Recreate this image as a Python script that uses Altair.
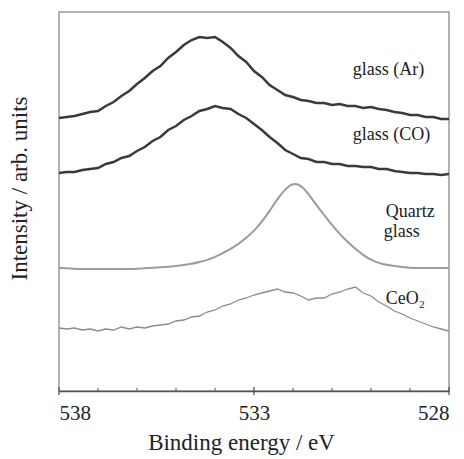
import altair as alt
import pandas as pd

# Binding energy grid (eV), 538 -> 528 in 0.2 eV steps
energy = [round(538 - 0.2 * i, 1) for i in range(51)]

glass_ar = [274, 275, 276, 278, 280, 281, 286, 290, 296, 301, 308, 314, 321, 326, 334, 340, 347,
            352, 355, 354, 355, 350, 344, 336, 330, 321, 315, 307, 302, 297, 295, 292, 291, 289,
            289, 287, 288, 286, 286, 284, 285, 283, 282, 280, 279, 277, 277, 275, 275, 273, 273]
glass_co = [219, 220, 220, 222, 223, 224, 228, 230, 234, 236, 241, 245, 251, 255, 262, 266, 272,
            276, 281, 283, 286, 284, 283, 278, 274, 268, 262, 255, 249, 242, 238, 234, 233, 230,
            230, 228, 228, 226, 226, 225, 225, 223, 223, 221, 220, 219, 219, 218, 218, 217, 218]
quartz = [124, 124, 123, 123, 123, 123, 123, 123, 123, 123, 123, 124, 124, 125, 125, 126, 127,
          128, 130, 132, 135, 139, 143, 148, 154, 161, 170, 181, 193, 203, 209, 207, 198, 187,
          177, 167, 158, 150, 143, 137, 132, 129, 127, 126, 125, 124, 124, 124, 124, 124, 124]
ceo2 = [64, 63, 64, 62, 63, 61, 63, 62, 65, 63, 65, 64, 66, 67, 68, 71, 72, 75, 76, 80, 82, 86,
        88, 92, 94, 97, 99, 101, 103, 100, 99, 96, 92, 94, 94, 98, 100, 103, 105, 99, 96, 90, 86,
        81, 78, 74, 71, 68, 65, 63, 61]

label_text = ["glass (Ar)", "glass (CO)", "Quartz", "glass", "CeO\u2082"]
label_energy = [530.47, 530.47, 529.62, 529.67, 529.62]
label_int = [322, 257, 180, 160, 93]

major_ticks = [538, 533, 528]
minor_ticks = [537, 536, 535, 534, 532, 531, 530, 529]

FONT = "Liberation Serif"

def frame(vals, name):
    return pd.DataFrame({"E": energy, "I": vals, "s": name})

xscale = alt.Scale(domain=[528, 538], reverse=True, nice=False, zero=False)
yscale = alt.Scale(domain=[1, 380], nice=False, zero=False)

xenc = alt.X("E:Q", scale=xscale,
             axis=alt.Axis(values=major_ticks, title="Binding energy / eV", format="d",
                           labelFont=FONT, labelFontSize=21, labelColor="#222",
                           labelPadding=11, ticks=False, grid=False,
                           domainColor="#555", domainWidth=1.5,
                           titleFont=FONT, titleFontSize=23, titleFontWeight="normal",
                           titleColor="#222", titlePadding=8, titleX=182))
yenc = alt.Y("I:Q", scale=yscale,
             axis=alt.Axis(title="Intensity / arb. units", labels=False, ticks=False,
                           grid=False, domain=False, titleFont=FONT, titleFontSize=23,
                           titleFontWeight="normal", titleColor="#222", titleAngle=270,
                           titleX=-40, titleY=176, titleBaseline="middle", titleAlign="center"))

def line(vals, name, color, width, interp="linear"):
    return alt.Chart(frame(vals, name)).mark_line(
        color=color, strokeWidth=width, interpolate=interp, clip=True
    ).encode(x=xenc, y=yenc)

ar = line(glass_ar, "glass (Ar)", "#3a3a3a", 2.5)
co = line(glass_co, "glass (CO)", "#3a3a3a", 2.5)
qz = line(quartz, "Quartz glass", "#9c9c9c", 2.0, "basis")
ce = line(ceo2, "CeO2", "#8c8c8c", 1.3)

labels = alt.Chart(pd.DataFrame({"t": label_text, "E": label_energy, "I": label_int})).mark_text(
    font=FONT, fontSize=18, align="left", baseline="middle", color="#222"
).encode(x=alt.X("E:Q", scale=xscale), y=alt.Y("I:Q", scale=yscale), text="t:N")

maj = alt.Chart(pd.DataFrame({"E": major_ticks})).mark_rule(color="#555", strokeWidth=1.3).encode(
    x=alt.X("E:Q", scale=xscale), y=alt.value(375), y2=alt.value(383))
mnr = alt.Chart(pd.DataFrame({"E": minor_ticks})).mark_rule(color="#666", strokeWidth=1.2).encode(
    x=alt.X("E:Q", scale=xscale), y=alt.value(376), y2=alt.value(379))

chart = alt.layer(ce, qz, co, ar, labels, maj, mnr).properties(
    width=390, height=379,
    autosize=alt.AutoSizeParams(type="none"),
    padding={"left": 59, "top": 12, "right": 15, "bottom": 68},
    background="white",
).configure(font=FONT).configure_view(stroke="#9a9a9a", strokeWidth=1.5)

chart.save("out.html", embed_options={"renderer": "svg", "actions": False})
